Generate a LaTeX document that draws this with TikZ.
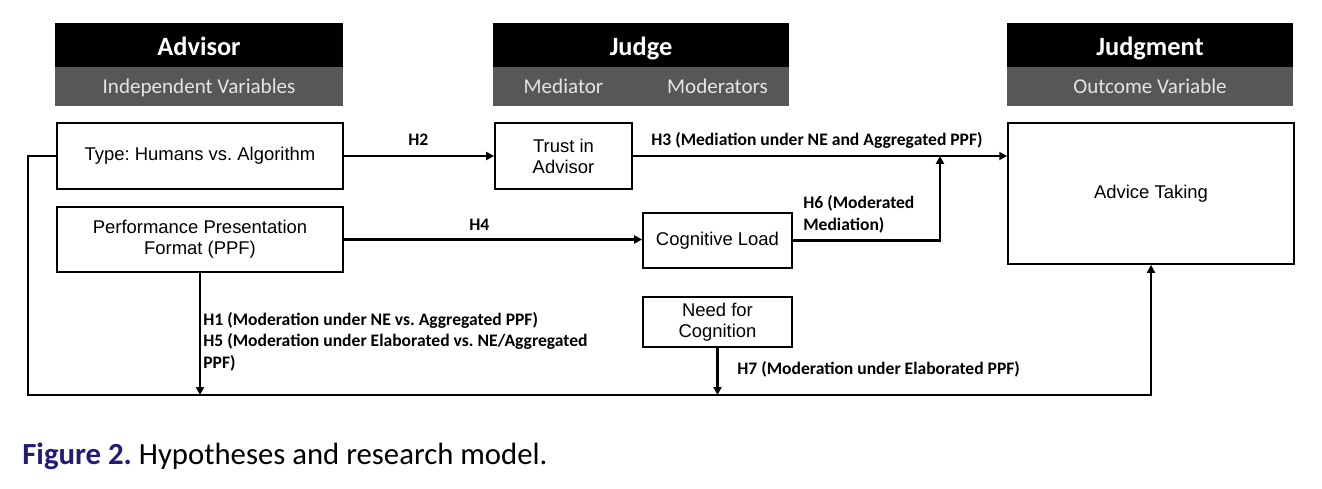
\documentclass[tikz,border=0pt]{standalone}
\usepackage{fontspec}
\setmainfont{Liberation Sans}
\newfontfamily\calfont{Carlito}
\usetikzlibrary{arrows.meta, positioning}
\definecolor{subgray}{RGB}{87,87,87}
\definecolor{capblue}{RGB}{30,30,120}
\tikzset{
  hdr/.style   ={fill=black, text=white, inner sep=0pt, outer sep=0pt,
                 minimum height=0.88cm, text height=11.5pt, text depth=0pt,
                 font=\calfont\bfseries\fontsize{15}{18}\selectfont},
  sub/.style   ={fill=subgray, inner sep=0pt, outer sep=0pt, minimum height=0.78cm},
  subtxt/.style={text=white!90!black, inner sep=0pt, text height=8.5pt, text depth=0pt,
                 font=\calfont\fontsize{12}{14}\selectfont},
  var/.style   ={draw, line width=1pt, align=center, inner sep=2pt,
                 font=\fontsize{10.5}{12}\selectfont},
  arr/.style   ={-{Triangle[length=4.5pt, width=4.5pt]}, line width=1.6pt},
  lbl/.style   ={anchor=base west, inner sep=0pt, align=left,
                 font=\calfont\bfseries\fontsize{10}{12.2}\selectfont},
}
\begin{document}
\frenchspacing
\begin{tikzpicture}[x=0.02cm, y=-0.02cm]
  \fill[white] (0,0) rectangle (1322,488);
  \useasboundingbox (0,0) rectangle (1322,488);

  % Headers
  \node[hdr, minimum width=5.76cm]         (advh) at (199,45)  {Advisor};
  \node[sub, minimum width=5.76cm, below=0pt of advh] (advs) {};
  \node[subtxt] at (advs) {Independent Variables};
  \node[hdr, minimum width=5.92cm]         (judh) at (641,45)  {Judge};
  \node[sub, minimum width=5.92cm, below=0pt of judh] (juds) {};
  \node[hdr, minimum width=5.74cm]         (outh) at (1150,45) {Judgment};
  \node[sub, minimum width=5.74cm, below=0pt of outh] (outs) {};
  \node[subtxt] at (outs) {Outcome Variable};

  % Variables
  \node[var, minimum width=5.72cm, minimum height=1.32cm] (type)   at (200,156)   {Type: Humans vs. Algorithm};
  \node[var, minimum width=5.72cm, minimum height=1.30cm] (ppf)    at (200,239.5) {Performance Presentation\\Format (PPF)};
  \node[var, minimum width=2.74cm, minimum height=1.32cm] (trust)  at (563.5,156) {Trust in\\Advisor};
  \node[var, minimum width=2.98cm, minimum height=1.10cm] (cog)    at (717.5,240.5) {Cognitive Load};
  \node[var, minimum width=2.98cm, minimum height=1.00cm] (nfc)    at (717.5,322) {Need for\\Cognition};
  \node[var, minimum width=5.72cm, minimum height=2.82cm] (advice) at (1151,193.5) {Advice Taking};
  \node[subtxt] at (trust |- juds) {Mediator};
  \node[subtxt] at (cog |- juds)   {Moderators};

  % Paths
  \coordinate (lb)    at (28,395);
  \coordinate (joint) at (940,156);
  \draw[arr] (type.east) -- (trust.west);
  \draw[arr] (trust.east) -- (trust.east -| advice.west);
  \draw[arr] (ppf.east) -- (ppf.east -| cog.west);
  \draw[arr] (cog.east) -| (joint);
  \draw[arr] (type.west) -| (lb) -| (advice.south);
  \draw[arr] (ppf.south) -- (ppf.south |- lb);
  \draw[arr] (nfc.south) -- (nfc.south |- lb);

  % Hypotheses
  \node[lbl] (h2) at (408,145) {H2};
  \node[lbl] (h3) at (651,145) {H3 (Mediation under NE and Aggregated PPF)};
  \node[lbl] (h4) at (469,230) {H4};
  \node[lbl] (h6) at (803,230) {H6 (Moderated\\Mediation)};
  \node[lbl] (h1) at (203,368) {H1 (Moderation under NE vs. Aggregated PPF)\\H5 (Moderation under Elaborated vs. NE/Aggregated\\PPF)};
  \node[lbl] (h7) at (737,374) {H7 (Moderation under Elaborated PPF)};

  % Caption
  \node[anchor=base west, inner sep=0pt, font=\calfont\fontsize{17.5}{20}\selectfont]
    (cap) at (22,464) {\textcolor{capblue}{\bfseries Figure 2.} Hypotheses and research model.};
\end{tikzpicture}
\end{document}
